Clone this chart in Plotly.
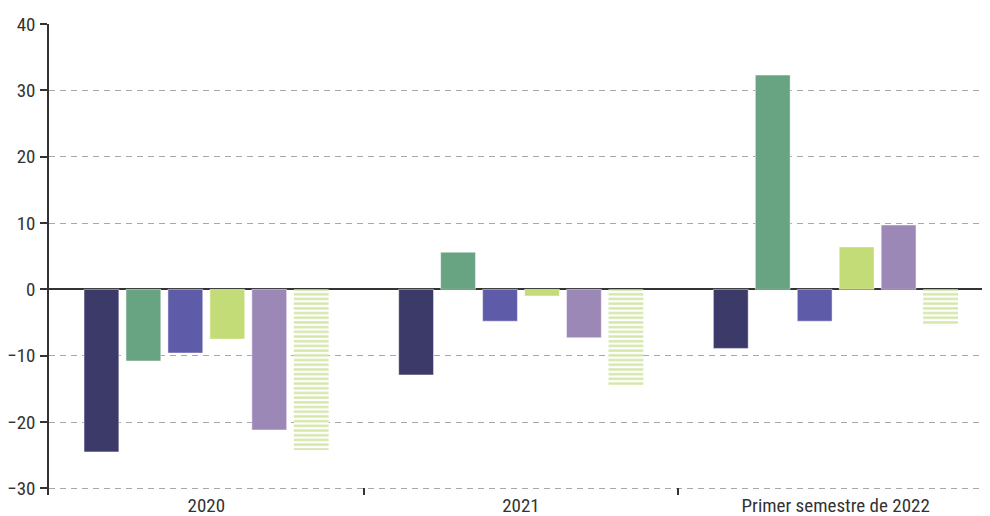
import plotly.graph_objects as go

categories = ["2020", "2021", "Primer semestre de 2022"]
serie1 = [-24.5, -12.9, -8.9]
serie2 = [-10.8, 5.6, 32.3]
serie3 = [-9.6, -4.8, -4.8]
serie4 = [-7.5, -1.0, 6.4]
serie5 = [-21.2, -7.3, 9.7]
serie6 = [-24.2, -14.7, -5.5]

colors = ["#3b3a68", "#68a382", "#5e5ca8", "#c4dc78", "#9c88b6"]
hatch_color = "#a8cd52"

fig = go.Figure()
for vals, col in zip([serie1, serie2, serie3, serie4, serie5], colors):
    fig.add_trace(go.Bar(x=categories, y=vals, marker=dict(color=col, line=dict(width=0.6, color="rgba(255,255,255,0.8)")),
                         showlegend=False))
fig.add_trace(go.Bar(x=categories, y=serie6, showlegend=False,
                     marker=dict(color="white", line=dict(width=0),
                                 pattern=dict(shape="-", fgcolor=hatch_color, bgcolor="white",
                                              size=4.7, solidity=0.5, fillmode="overlay"))))

font = "Roboto Condensed, Liberation Sans Narrow, Roboto, Arial"
fig.update_layout(
    width=985, height=508,
    margin=dict(l=41, r=0, t=16, b=21),
    paper_bgcolor="white", plot_bgcolor="white",
    barmode="group", bargap=0.2, bargroupgap=0.17,
    font=dict(family=font, size=19, color="#333333"),
)
fig.update_yaxes(range=[-31, 40], tickvals=[-30, -20, -10, 0, 10, 20, 30, 40],
                 automargin=False,
                 showgrid=True, gridcolor="#a8a8a8", griddash="6px,5px", gridwidth=1,
                 zeroline=True, zerolinecolor="#333333", zerolinewidth=1.5,
                 showline=True, linecolor="#333333", linewidth=1.5,
                 ticks="outside", ticklen=7, tickcolor="#333333", tickwidth=1.5,
                 ticklabelstandoff=1, tickfont=dict(size=19, color="#333333"))
fig.update_xaxes(showline=False, showgrid=False, ticks="inside", tickson="boundaries",
                 automargin=False,
                 ticklen=7, tickcolor="#333333", tickwidth=1.5,
                 tickfont=dict(size=19, color="#333333"), ticklabelstandoff=-3)

fig.write_html("out.html")
